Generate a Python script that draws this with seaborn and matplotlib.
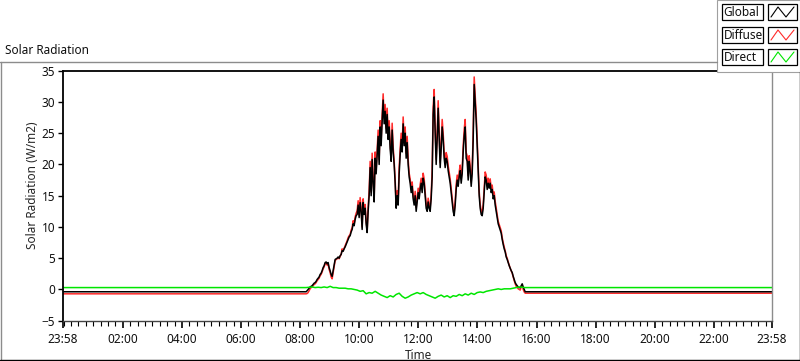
import numpy as np
import pandas as pd
import matplotlib
matplotlib.use("Agg")
import matplotlib.pyplot as plt
import seaborn as sns
from matplotlib.lines import Line2D
from matplotlib.patches import Rectangle

# chart runs from 23:58 (previous day) to 23:58, times in minutes from midnight
t_first, t_last = -2, 1438

# daytime samples (08:00 .. 15:39, one every ~2 min)
day_first, day_last = 480, 939
global_day = [
    -0.37, -0.37, -0.37, -0.37, -0.37, -0.37, -0.37, -0.2, 0.0, 0.2,
    0.4, 0.5, 0.6, 0.8, 1.0, 1.1, 1.3, 1.6, 1.8, 2.0,
    2.4, 2.6, 3.0, 3.5, 3.8, 4.3, 4.4, 4.1, 4.3, 3.5,
    3.0, 2.4, 2.1, 3.0, 4.0, 4.8, 4.9, 5.0, 5.2, 5.0,
    5.4, 5.6, 6.2, 6.1, 6.5, 6.8, 7.2, 7.6, 8.0, 8.4,
    8.6, 9.2, 9.6, 10.5, 10.2, 11.2, 11.8, 12.0, 13.5, 11.5,
    13.9, 12.5, 9.6, 13.9, 12.0, 13.0, 10.5, 9.1, 12.5, 15.0,
    19.5, 15.0, 20.8, 17.0, 14.0, 21.0, 18.5, 21.5, 24.5, 20.0,
    26.0, 23.0, 27.0, 30.3, 26.5, 28.5, 25.0, 28.0, 24.0, 26.0,
    22.5, 20.5, 25.5, 22.0, 20.0, 17.0, 13.0, 15.0, 13.5, 18.5,
    21.5, 24.0, 22.0, 26.5, 23.0, 25.0, 21.0, 23.5, 20.0, 18.0,
    17.0, 15.5, 16.5, 14.5, 13.5, 15.0, 12.5, 14.0, 15.5, 14.5,
    16.0, 17.0, 15.5, 17.8, 17.0, 15.0, 13.0, 12.5, 14.0, 13.0,
    12.5, 14.5, 18.0, 28.0, 30.8, 25.0, 20.0, 24.0, 29.0, 24.5,
    19.5, 22.5, 26.0, 24.0, 21.0, 19.5, 21.0, 20.5, 19.0, 18.0,
    17.0, 15.5, 14.0, 12.5, 11.8, 13.5, 16.0, 17.5, 16.5, 18.0,
    19.0, 17.0, 18.5, 22.0, 24.5, 26.0, 21.0, 20.5, 17.5, 20.5,
    19.0, 16.5, 18.5, 24.0, 32.8, 30.0, 27.0, 23.0, 19.0, 15.0,
    13.0, 12.0, 11.8, 13.0, 15.5, 18.0, 17.5, 16.0, 17.0, 16.2,
    17.0, 15.5, 16.0, 14.5, 15.0, 13.5, 12.5, 11.5, 10.5, 10.0,
    9.5, 9.0, 8.0, 7.2, 6.5, 6.0, 5.2, 4.8, 4.3, 3.8,
    3.4, 3.0, 2.7, 2.1, 1.6, 1.1, 0.8, 0.6, 0.4, 0.3,
    0.3, 0.6, 0.9, 0.4, 0.0, -0.37, -0.37,
]
diffuse_day = [
    -0.7, -0.7, -0.7, -0.7, -0.7, -0.7, -0.7, -0.65, -0.5, -0.2,
    0.1, 0.3, 0.4, 0.6, 0.8, 0.9, 1.1, 1.4, 1.6, 1.8,
    2.2, 2.4, 2.8, 3.3, 3.6, 4.1, 4.2, 3.9, 4.0, 3.2,
    2.7, 2.0, 1.7, 2.7, 3.8, 4.6, 4.8, 4.9, 5.1, 4.9,
    5.3, 5.6, 6.5, 6.2, 6.6, 7.0, 7.4, 7.8, 8.3, 8.6,
    8.8, 9.5, 9.9, 11.0, 10.5, 11.6, 12.2, 12.6, 14.2, 12.0,
    14.7, 13.0, 10.0, 14.5, 12.5, 13.6, 11.0, 9.5, 13.2, 15.8,
    20.5, 15.6, 21.8, 17.6, 14.5, 22.0, 19.2, 22.5, 25.5, 20.8,
    27.0, 23.8, 28.0, 31.3, 27.3, 29.6, 25.8, 29.0, 24.8, 27.0,
    23.4, 21.2, 26.6, 22.8, 20.6, 17.6, 13.6, 15.8, 14.2, 19.5,
    22.5, 25.0, 22.8, 27.6, 23.8, 26.0, 21.8, 24.5, 20.8, 18.6,
    17.7, 16.2, 17.2, 15.1, 14.1, 15.7, 13.1, 14.7, 16.2, 15.2,
    16.8, 17.8, 16.2, 18.6, 17.7, 15.6, 13.6, 13.0, 14.6, 13.6,
    13.1, 15.2, 19.0, 29.2, 32.0, 26.0, 20.8, 25.0, 30.2, 25.5,
    20.3, 23.5, 27.2, 25.0, 21.8, 20.3, 21.9, 21.3, 19.8, 18.7,
    17.7, 16.2, 14.6, 13.1, 12.3, 14.1, 16.8, 18.3, 17.2, 18.8,
    19.9, 17.7, 19.3, 23.0, 25.6, 27.2, 21.9, 21.4, 18.2, 21.4,
    19.8, 17.2, 19.3, 25.1, 34.0, 31.2, 28.1, 24.0, 19.8, 15.7,
    13.6, 12.6, 12.3, 13.6, 16.2, 18.8, 18.3, 16.7, 17.8, 16.9,
    17.7, 16.2, 16.7, 15.1, 15.6, 14.1, 13.0, 12.0, 10.9, 10.4,
    9.9, 9.4, 8.3, 7.5, 6.8, 6.2, 5.4, 5.0, 4.4, 3.9,
    3.4, 3.0, 2.6, 2.0, 1.4, 0.9, 0.5, 0.3, 0.1, 0.0,
    -0.1, 0.4, 0.7, 0.0, -0.4, -0.6, -0.6,
]
# direct radiation on a coarser grid (08:00 .. 15:37, one every ~6 min)
direct_first, direct_last = 480, 937
direct_day = [
    0.3, 0.3, 0.3, 0.35, 0.4, 0.3, 0.35, 0.3, 0.4, 0.3,
    0.5, 0.3, 0.3, 0.2, 0.2, 0.2, 0.1, 0.1, 0.0, -0.1,
    -0.3, -0.2, -0.7, -0.5, -0.6, -0.3, -0.6, -0.9, -1.1, -1.3,
    -1.0, -1.2, -0.8, -0.6, -1.1, -1.4, -1.2, -0.9, -0.7, -0.5,
    -0.7, -0.5, -0.8, -1.0, -1.2, -1.4, -1.1, -0.9, -1.2, -1.0,
    -1.3, -1.0, -1.1, -0.8, -1.0, -0.7, -0.9, -0.6, -0.8, -0.5,
    -0.4, -0.5, -0.3, -0.2, -0.1, 0.0, 0.1, 0.0, 0.1, 0.1,
    0.1, 0.2, 0.3, 0.4, 0.35, 0.3,
]
# night level at 23:58 before and 23:58 after the day
global_night = [-0.37, -0.37]
diffuse_night = [-0.7, -0.6]
direct_night = [0.3, 0.3]

series_names = ["Global", "Diffuse", "Direct"]
series_colors = {"Global": "#000000", "Diffuse": "#ff2a2a", "Direct": "#00e600"}

major_hours = [-2 / 60, 2, 4, 6, 8, 10, 12, 14, 16, 18, 20, 22, 24 - 2 / 60]
major_labels = ["23:58", "02:00", "04:00", "06:00", "08:00", "10:00", "12:00",
                "14:00", "16:00", "18:00", "20:00", "22:00", "23:58"]


def make_series(name, night, day, d0, d1):
    t = np.concatenate([[t_first], np.linspace(d0, d1, len(day)), [t_last]])
    v = np.concatenate([[night[0]], day, [night[1]]])
    return pd.DataFrame({"hours": t / 60.0, "value": v, "series": name})


df = pd.concat([
    make_series("Global", global_night, global_day, day_first, day_last),
    make_series("Diffuse", diffuse_night, diffuse_day, day_first, day_last),
    make_series("Direct", direct_night, direct_day, direct_first, direct_last),
], ignore_index=True)

sns.set_style("white")
plt.rcParams["font.family"] = ["Noto Sans", "DejaVu Sans"]
plt.rcParams["font.size"] = 8.5
plt.rcParams["text.color"] = "#101010"

W, H = 800, 361
fig = plt.figure(figsize=(W / 100, H / 100), dpi=100)
ax = fig.add_axes([62.7 / W, 1 - 320.7 / H, (772 - 62.7) / W, (320.7 - 70.7) / H])

# diffuse first so the global line sits on top of it
sns.lineplot(data=df, x="hours", y="value", hue="series",
             hue_order=["Diffuse", "Global", "Direct"], palette=series_colors,
             estimator=None, sort=False, legend=False, linewidth=1.1, ax=ax)

ax.set_xlim(-2 / 60, 24 - 2 / 60)
ax.set_ylim(-5, 35)
ax.set_yticks(range(-5, 36, 5))
ax.set_xticks(major_hours)
ax.set_xticklabels(major_labels)
ax.set_xticks(np.arange(0, 24, 0.25), minor=True)
ax.tick_params(axis="x", which="major", length=5, width=1.2, pad=4, color="black",
               labelsize=8.5, labelcolor="#101010", bottom=True)
ax.tick_params(axis="x", which="minor", length=3.5, width=0.8, color="black", bottom=True)
ax.tick_params(axis="y", which="major", length=3.5, width=1.0, pad=2, color="black",
               labelsize=8.5, labelcolor="#101010", left=True)

for side in ["left", "top"]:
    ax.spines[side].set_color("black")
    ax.spines[side].set_linewidth(1.3)
ax.spines["right"].set_color("#8c8c8c")
ax.spines["right"].set_linewidth(1.0)
ax.spines["bottom"].set_color("#444444")
ax.spines["bottom"].set_linewidth(1.0)

ax.set_xlabel("Time", fontsize=8.5)
ax.xaxis.set_label_coords(0.501, -0.115)
ax.set_ylabel("Solar Radiation (W/m2)", fontsize=8.5)
ax.yaxis.set_label_coords(-0.033, 0.54)

fig.text(5 / W, 1 - 50.5 / H, "Solar Radiation", fontsize=8.5, va="center", ha="left")


def fx(px):
    return px / W


def fy(py):
    return 1 - py / H


# panel frame around the graph
fig.add_artist(Line2D([fx(0), fx(717)], [fy(61.5), fy(61.5)], color="#8c8c8c", lw=1.0))
fig.add_artist(Line2D([fx(1), fx(1)], [fy(61.5), fy(359)], color="#8c8c8c", lw=1.0))
fig.add_artist(Line2D([fx(0), fx(799.5)], [fy(359.5), fy(359.5)], color="black", lw=1.0))
fig.add_artist(Line2D([fx(799.5), fx(799.5)], [fy(72), fy(359.5)], color="black", lw=1.0))

# plot legend in the top right corner
fig.add_artist(Rectangle((fx(717), fy(72)), fx(800) - fx(717), fy(0) - fy(72),
                         facecolor="white", edgecolor="#a0a0a0", lw=0.8))
row_top = [4, 27, 49]
for name, top in zip(series_names, row_top):
    fig.add_artist(Rectangle((fx(722), fy(top + 16)), fx(41), fy(0) - fy(16),
                             facecolor="white", edgecolor="black", lw=0.9))
    fig.text(fx(723.5), fy(top + 8.5), name, fontsize=8.5, va="center", ha="left")
    fig.add_artist(Rectangle((fx(768), fy(top + 16)), fx(29), fy(0) - fy(16),
                             facecolor="white", edgecolor="black", lw=0.9))
    fig.add_artist(Line2D([fx(771), fx(778), fx(786), fx(794)],
                          [fy(top + 13), fy(top + 3), fy(top + 13), fy(top + 3)],
                          color=series_colors[name], lw=0.8))

fig.savefig("out.png", dpi=100)
